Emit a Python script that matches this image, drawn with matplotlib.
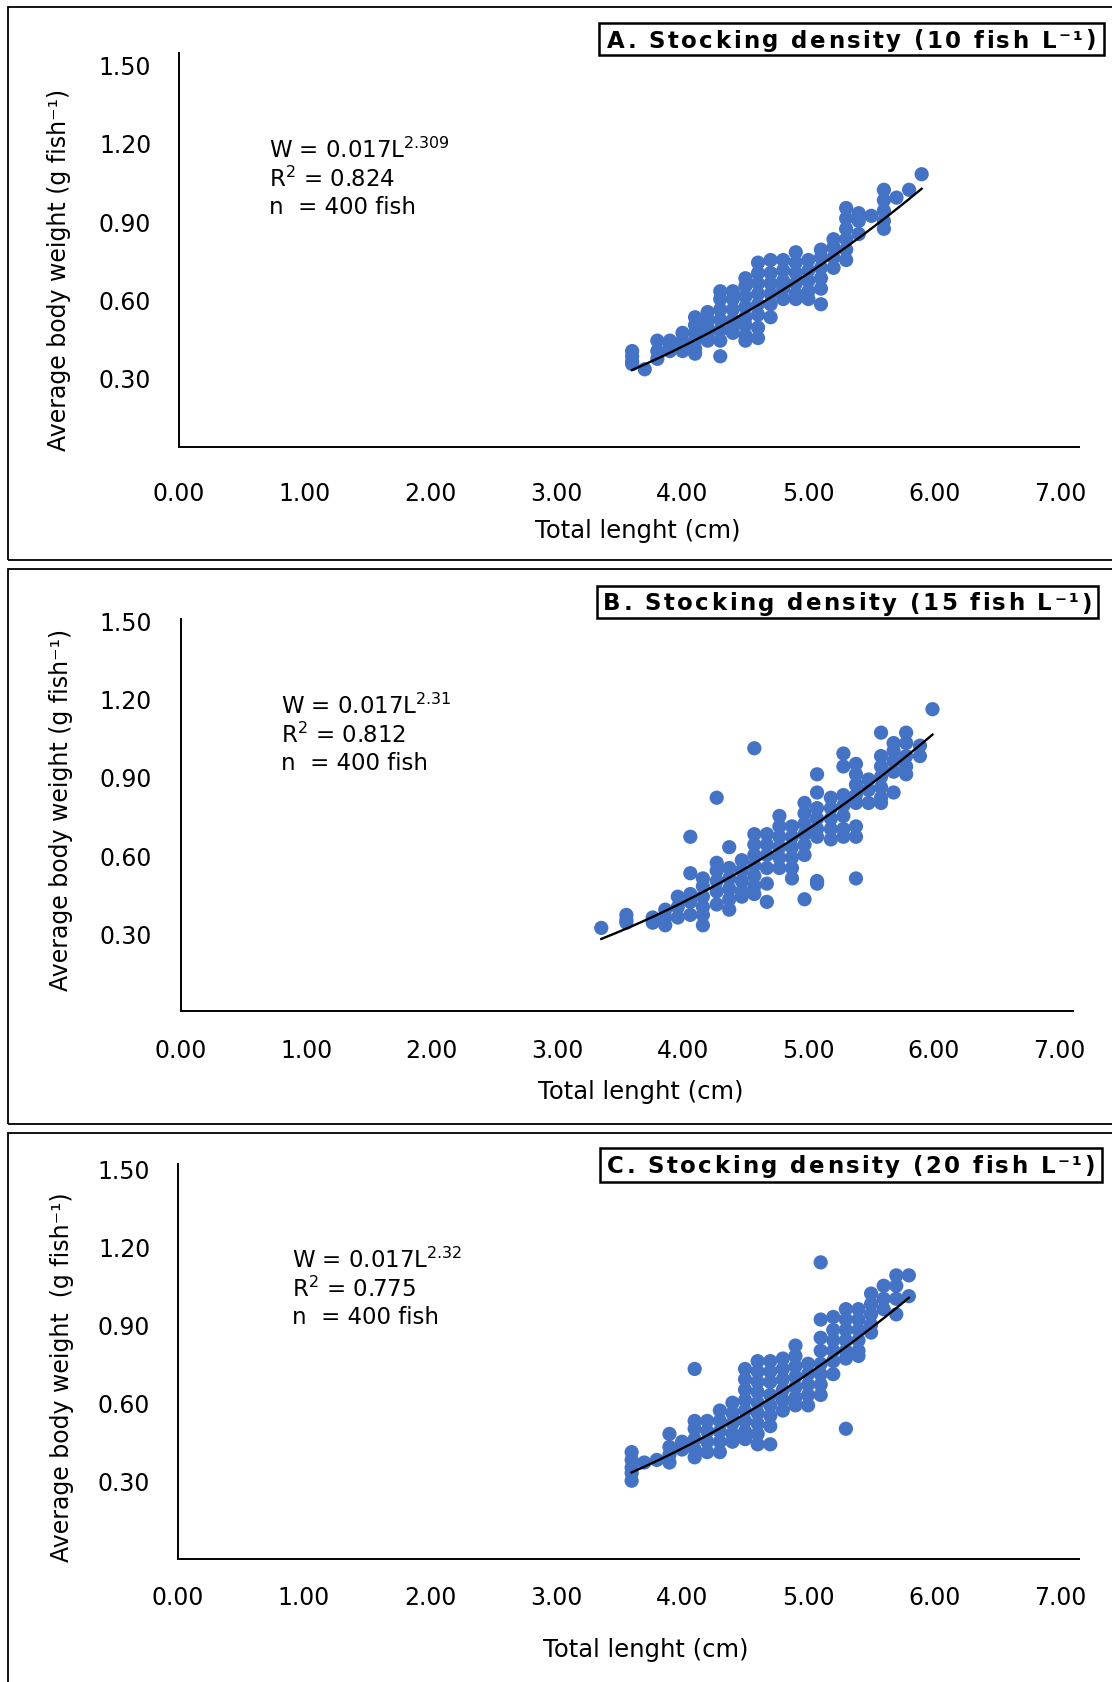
import numpy as np
import matplotlib
matplotlib.use('Agg')
import matplotlib.pyplot as plt
from matplotlib.patches import Rectangle
from matplotlib.font_manager import FontProperties
from matplotlib.textpath import TextToPath

W, H = 1112, 1683
BLUE = '#4472C4'

# --- data: length columns (cm) and the weights (g) stacked in each ---
a_cols = [3.6, 3.7, 3.8, 3.9, 4.0, 4.1, 4.2, 4.3, 4.4, 4.5, 4.6, 4.7,
          4.8, 4.9, 5.0, 5.1, 5.2, 5.3, 5.4, 5.5, 5.6, 5.7, 5.8, 5.9]
a_wts = [[0.40, 0.38, 0.36, 0.35], [0.33], [0.44, 0.40, 0.37], [0.44, 0.42, 0.40],
         [0.47, 0.44, 0.42, 0.40], [0.53, 0.50, 0.47, 0.44, 0.41, 0.39],
         [0.55, 0.52, 0.49, 0.46, 0.44], [0.63, 0.60, 0.56, 0.52, 0.48, 0.44, 0.38],
         [0.63, 0.60, 0.56, 0.52, 0.49, 0.47], [0.68, 0.65, 0.61, 0.57, 0.53, 0.50, 0.46, 0.44],
         [0.74, 0.70, 0.66, 0.62, 0.58, 0.54, 0.49, 0.45], [0.75, 0.70, 0.66, 0.62, 0.58, 0.53],
         [0.75, 0.71, 0.67, 0.64, 0.60], [0.78, 0.74, 0.70, 0.66, 0.62, 0.60],
         [0.75, 0.71, 0.67, 0.63, 0.60], [0.79, 0.76, 0.72, 0.68, 0.64, 0.58],
         [0.83, 0.80, 0.76, 0.72], [0.95, 0.91, 0.87, 0.83, 0.79, 0.75],
         [0.93, 0.90, 0.85], [0.92], [1.02, 0.98, 0.94, 0.90, 0.87], [0.99], [1.02], [1.08]]

b_cols = [3.35, 3.55, 3.76, 3.86, 3.96, 4.06, 4.16, 4.27, 4.37, 4.47, 4.57, 4.67, 4.77,
          4.87, 4.97, 5.07, 5.18, 5.28, 5.38, 5.48, 5.58, 5.68, 5.78, 5.89, 5.99]
b_wts = [[0.32], [0.37, 0.35, 0.34], [0.36, 0.34], [0.39, 0.36, 0.33], [0.44, 0.40, 0.36],
         [0.67, 0.53, 0.45, 0.42, 0.37], [0.51, 0.48, 0.44, 0.40, 0.37, 0.33],
         [0.82, 0.57, 0.54, 0.50, 0.46, 0.41], [0.63, 0.55, 0.51, 0.47, 0.43, 0.39],
         [0.58, 0.54, 0.50, 0.46, 0.44], [1.01, 0.68, 0.64, 0.60, 0.56, 0.52, 0.48, 0.45],
         [0.68, 0.64, 0.60, 0.55, 0.49, 0.42], [0.75, 0.71, 0.67, 0.63, 0.59, 0.55],
         [0.71, 0.67, 0.63, 0.59, 0.55, 0.51], [0.80, 0.76, 0.72, 0.68, 0.64, 0.60, 0.43],
         [0.91, 0.84, 0.78, 0.74, 0.70, 0.67, 0.50, 0.49], [0.82, 0.78, 0.74, 0.70, 0.66],
         [0.99, 0.94, 0.83, 0.79, 0.75, 0.70, 0.67], [0.95, 0.91, 0.87, 0.83, 0.80, 0.71, 0.67, 0.51],
         [0.89, 0.85, 0.80], [1.07, 0.98, 0.94, 0.90, 0.86, 0.82, 0.80],
         [1.03, 1.00, 0.96, 0.92, 0.84], [1.07, 1.03, 0.98, 0.94, 0.91], [1.02, 0.98], [1.16]]

c_cols = [3.6, 3.7, 3.8, 3.9, 4.0, 4.1, 4.2, 4.3, 4.4, 4.5, 4.6, 4.7,
          4.8, 4.9, 5.0, 5.1, 5.2, 5.3, 5.4, 5.5, 5.6, 5.7, 5.8]
c_wts = [[0.41, 0.38, 0.35, 0.33, 0.30], [0.37], [0.38], [0.48, 0.43, 0.40, 0.37],
         [0.45, 0.42], [0.73, 0.53, 0.50, 0.46, 0.42, 0.39], [0.53, 0.49, 0.45, 0.41],
         [0.57, 0.53, 0.49, 0.45, 0.41], [0.60, 0.56, 0.52, 0.48, 0.45],
         [0.73, 0.69, 0.65, 0.61, 0.57, 0.53, 0.49, 0.46],
         [0.76, 0.72, 0.68, 0.64, 0.60, 0.56, 0.52, 0.48, 0.44],
         [0.76, 0.72, 0.68, 0.63, 0.59, 0.55, 0.51, 0.44],
         [0.77, 0.73, 0.69, 0.65, 0.61, 0.57], [0.82, 0.78, 0.74, 0.70, 0.66, 0.62, 0.59],
         [0.75, 0.71, 0.67, 0.63, 0.59], [1.14, 0.92, 0.85, 0.80, 0.75, 0.71, 0.67, 0.63],
         [0.93, 0.88, 0.84, 0.80, 0.76, 0.71], [0.96, 0.92, 0.88, 0.84, 0.80, 0.77, 0.50],
         [0.96, 0.92, 0.88, 0.84, 0.80, 0.78], [1.02, 0.98, 0.94, 0.90, 0.87],
         [1.05, 1.00, 0.96], [1.09, 1.05, 1.00, 0.94], [1.09, 1.01]]

titles = ['A. Stocking density (10 fish L\u207b\u00b9)',
          'B. Stocking density (15 fish L\u207b\u00b9)',
          'C. Stocking density (20 fish L\u207b\u00b9)']
exponents = ['2.309', '2.31', '2.32']
r2 = ['0.824', '0.812', '0.775']
coef = 0.017
xticks = [0, 1, 2, 3, 4, 5, 6, 7]
yticks = [0.30, 0.60, 0.90, 1.20, 1.50]

# --- layout, all in pixels of the 1112x1683 image ---
panels = [
    dict(frame=(8, 7.5, 1120, 561), ax=(179, 54, 1079, 448.3), ylim=(0.03, 1.546), xmax=7.15,
         title=(599, 24, 1104, 56), eq=(269, 150), xlab=(638, 531), ylab=(59, 270),
         ylab_txt='Average body weight (g fish\u207b\u00b9)', xpad=24, ypad=20),
    dict(frame=(8, 570, 1120, 1125), ax=(181, 620.4, 1073, 1012.2), ylim=(0, 1.505), xmax=7.11,
         title=(597, 587, 1098, 619), eq=(281, 706), xlab=(641, 1092), ylab=(61, 810),
         ylab_txt='Average body weight (g fish\u207b\u00b9)', xpad=19, ypad=21),
    dict(frame=(8, 1133.5, 1120, 1700), ax=(178, 1164.6, 1079, 1559.7), ylim=(0, 1.52), xmax=7.15,
         title=(600, 1149, 1102, 1183), eq=(292, 1260), xlab=(646, 1650), ylab=(62, 1377),
         ylab_txt='Average body weight  (g fish\u207b\u00b9)', xpad=19, ypad=20),
]


def fx(px):
    return px / W


def fy(py):
    return 1 - py / H


def spaced_text(fig, cx, cy, s, size, gap, **kw):
    '''draw s centred on pixel (cx, cy) with extra gap (px) between the letters'''
    fp = FontProperties(family='DejaVu Sans', weight=kw.get('fontweight', 'normal'), size=size)
    ttp = TextToPath()
    widths = [ttp.get_text_width_height_descent(ch, fp, ismath=False)[0] * 100 / 72 for ch in s]
    total = sum(widths) + gap * (len(s) - 1)
    x = cx - total / 2
    for ch, w in zip(s, widths):
        fig.text(fx(x), fy(cy), ch, fontproperties=fp, ha='left', va='center')
        x += w + gap


fig = plt.figure(figsize=(W / 100, H / 100), dpi=100)

data = [(a_cols, a_wts), (b_cols, b_wts), (c_cols, c_wts)]

for i, p in enumerate(panels):
    cols, wts = data[i]
    lens = [c for c, ws in zip(cols, wts) for _ in ws]
    wgts = [w for ws in wts for w in ws]

    # outer frame of the panel
    x0, y0, x1, y1 = p['frame']
    fig.patches.append(Rectangle((fx(x0), fy(y1)), fx(x1) - fx(x0), fy(y0) - fy(y1),
                                 transform=fig.transFigure, fill=False, lw=1.3, ec='black'))

    l, t, r, b = p['ax']
    ax = fig.add_axes([fx(l), fy(b), fx(r) - fx(l), fy(t) - fy(b)])
    ax.scatter(lens, wgts, s=105, color=BLUE, edgecolors='none', zorder=2)
    L = np.linspace(min(lens), max(lens), 200)
    ax.plot(L, coef * L ** float(exponents[i]), color='black', lw=1.7, zorder=3)

    ax.set_xlim(0, p['xmax'])
    ax.set_ylim(*p['ylim'])
    ax.set_xticks(xticks)
    ax.set_xticklabels([f'{v:.2f}' for v in xticks], fontsize=17)
    ax.set_yticks(yticks)
    ax.set_yticklabels([f'{v:.2f}' for v in yticks], fontsize=17)
    ax.tick_params(axis='x', length=0, pad=p['xpad'])
    ax.tick_params(axis='y', length=0, pad=p['ypad'])
    for s in ['top', 'right']:
        ax.spines[s].set_visible(False)
    for s in ['left', 'bottom']:
        ax.spines[s].set_linewidth(1.4)
    ax.patch.set_alpha(0)

    # title box
    x0, y0, x1, y1 = p['title']
    fig.patches.append(Rectangle((fx(x0), fy(y1)), fx(x1) - fx(x0), fy(y0) - fy(y1),
                                 transform=fig.transFigure, fill=False, lw=1.8, ec='black'))
    spaced_text(fig, (x0 + x1) / 2, (y0 + y1) / 2 + 1, titles[i], 16.5, 2.4, fontweight='bold')

    ex, ey = p['eq']
    fig.text(fx(ex), fy(ey), 'W = 0.017L$^{\\mathregular{%s}}$' % exponents[i], fontsize=16.5, va='center')
    fig.text(fx(ex), fy(ey + 29), 'R$^{\\mathregular{2}}$ = %s' % r2[i], fontsize=16.5, va='center')
    fig.text(fx(ex), fy(ey + 58), 'n  = 400 fish', fontsize=16.5, va='center')

    fig.text(fx(p['xlab'][0]), fy(p['xlab'][1]), 'Total lenght (cm)', fontsize=17.5,
             ha='center', va='center')
    fig.text(fx(p['ylab'][0]), fy(p['ylab'][1]), p['ylab_txt'], fontsize=17,
             ha='center', va='center', rotation=90)

fig.savefig('out.png', dpi=100)
